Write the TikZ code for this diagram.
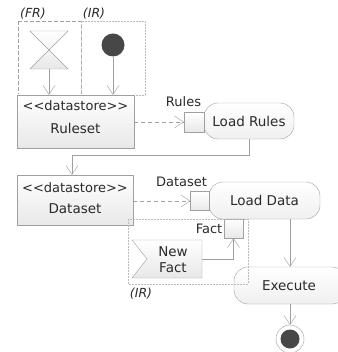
\documentclass[tikz,border=0pt]{standalone}
\usepackage{fontspec}
\setmainfont[Ligatures=TeXOff]{DejaVu Sans}
\usetikzlibrary{arrows.meta}
\definecolor{ln}{HTML}{A0A0A0}
\definecolor{lnl}{HTML}{BBBBBB}
\definecolor{tx}{HTML}{2A2A2A}
\definecolor{dk}{HTML}{474747}
\begin{document}
\begin{tikzpicture}[x=1pt,y=-1pt,
  font=\fontsize{13.5}{16}\selectfont, text=tx,
  store/.style={draw=ln, top color=white, bottom color=gray!18, inner sep=0},
  act/.style={draw=ln, rounded corners=14, top color=white, bottom color=gray!12, inner sep=0},
  pinbox/.style={draw=ln, top color=white, bottom color=gray!18, minimum size=19, inner sep=0},
  flow/.style={draw=ln, -{Straight Barb[length=9,width=12]}},
  objflow/.style={flow, dash pattern=on 4pt off 3pt},
  regionA/.style={draw=ln, dash pattern=on 4pt off 2pt},
  regionB/.style={draw=lnl, dash pattern=on 2pt off 1pt},
  lbl/.style={inner sep=0},
  small/.style={inner sep=0, font=\fontsize{13}{16}\selectfont},
  ital/.style={inner sep=0, font=\fontsize{12.5}{15}\selectfont\itshape}
]
\useasboundingbox (0,0) rectangle (337,352);
\fill[white] (0,0) rectangle (337,352);

% top regions
\draw[regionA] (18,21) rectangle (81,95);
\draw[regionB] (81,21) rectangle (145,95);
\node[ital] (frlbl) at (33,14) {(FR)};
\node[ital] (irlbl) at (94,14) {(IR)};

% hourglass
\path[draw=ln, top color=white, bottom color=gray!18] (30,31) -- (68,31) -- (30,69) -- (68,69) -- cycle;
\coordinate (hg) at (49,69);

% initial node
\node[circle, fill=dk, minimum size=23, inner sep=0] (init) at (113,45) {};

% Ruleset
\node[store, minimum width=117, minimum height=53] (RS) at (75.5,121.5) {};
\node[small] (rs1) at (75.5,106) {<<datastore>>};
\node[lbl] (rs2) at (75.5,128) {Ruleset};

\draw[flow] (hg) -- (hg |- RS.north);
\draw[flow] (init) -- (init |- RS.north);

% Load Rules
\node[act, minimum width=90, minimum height=36] (LR) at (249,121) {Load Rules};
\node[pinbox, minimum size=20] (pr) at (194,122) {};
\node[small] (prl) at (183.5,102) {Rules};
\draw[objflow] (RS.east |- pr) -- (pr.west);

% Dataset
\node[store, minimum width=116, minimum height=50] (DS) at (75,200) {};
\node[small] (ds1) at (75,188) {<<datastore>>};
\node[lbl] (ds2) at (75,209) {Dataset};

\draw[flow] (LR.south) -- ++(0,16) -| ([xshift=-3pt]DS.north);

% Load Data
\node[act, minimum width=111, minimum height=37] (LD) at (264.5,200.5) {Load Data};
\node[pinbox] (pd) at (200,201) {};
\node[small] (pdl) at (181.5,181.5) {Dataset};
\node[pinbox] (pf) at (233.5,228.5) {};
\node[small, anchor=east] (pfl) at (222.5,228.5) {Fact};
\draw[objflow] (DS.east |- pd) -- (pd.west);

% New Fact (accept event)
\path[draw=ln, top color=white, bottom color=gray!18] (132,240) -- (202,240) -- (202,278) -- (132,278) -- (147,259) -- cycle;
\node[lbl, align=center] (NF) at (173,260) {New\\Fact};
\coordinate (nfE) at (202,259);
\draw[flow] (nfE) -| (pf.south);

% Execute
\node[act, minimum width=112, minimum height=37] (EX) at (290,285.5) {\hspace*{-2pt}Execute};
\draw[flow] (LD.south -| EX.north) -- (EX.north);

% lower region
\draw[regionB] (128,219) rectangle (248,284);
\node[ital] (irlbl2) at (141,294) {(IR)};

% final node
\node[circle, draw=ln, fill=white, minimum size=28, inner sep=0] (fin) at (290,339) {};
\node[circle, fill=dk, minimum size=19, inner sep=0] (fin2) at (fin) {};
\draw[flow] (EX.south -| fin) -- (fin.north);
\end{tikzpicture}
\end{document}
